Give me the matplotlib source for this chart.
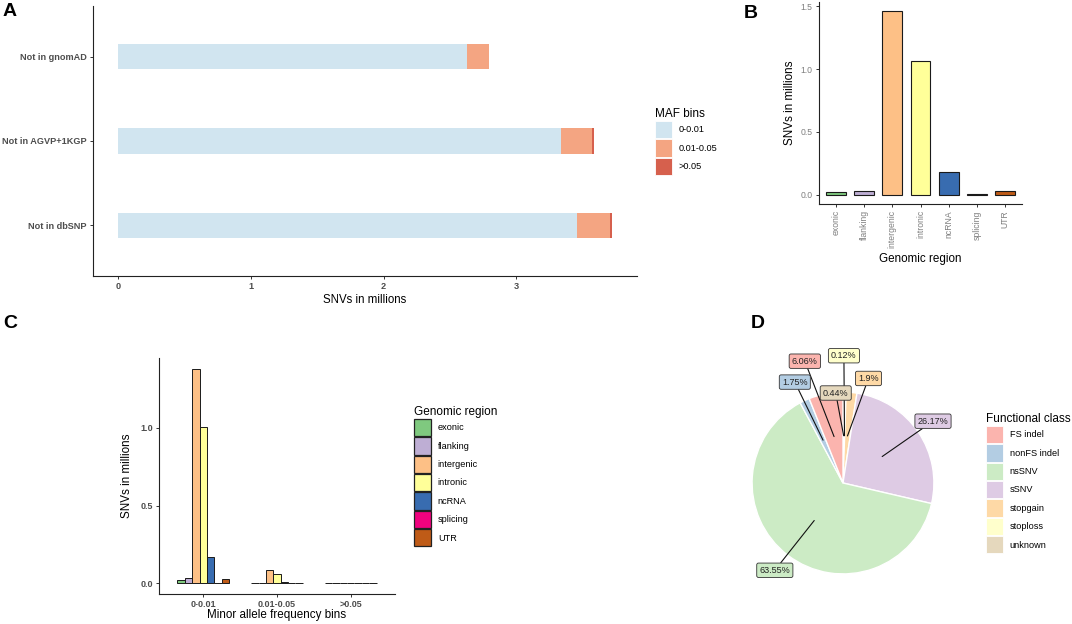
import matplotlib
matplotlib.use('Agg')
import matplotlib.pyplot as plt
from matplotlib.patches import Patch
import numpy as np

plt.rcParams['font.family'] = ['Liberation Sans', 'DejaVu Sans']

# ---- panel A data: novel SNVs per reference set, stacked by MAF bin
sets = ['Not in dbSNP', 'Not in AGVP+1KGP', 'Not in gnomAD']
maf_bins = ['0-0.01', '0.01-0.05', '>0.05']
maf_low = [3.458, 3.336, 2.632]
maf_mid = [0.247, 0.238, 0.163]
maf_high = [0.018, 0.015, 0.003]
maf_colors = ['#D1E5F0', '#F4A582', '#D6604D']

# ---- panel B data: SNVs per genomic region
regions = ['exonic', 'flanking', 'intergenic', 'intronic', 'ncRNA', 'splicing', 'UTR']
region_total = [0.024, 0.032, 1.46, 1.066, 0.18, 0.003, 0.03]
region_colors = ['#7FC97F', '#BEAED4', '#FDC086', '#FFFF99', '#386CB0', '#F0027F', '#BF5B17']

# ---- panel C data: genomic region split by minor allele frequency bin
freq_bins = ['0-0.01', '0.01-0.05', '>0.05']
bin1_vals = [0.023, 0.032, 1.38, 1.005, 0.169, 0.002, 0.03]
bin2_vals = [0.001, 0.002, 0.088, 0.058, 0.009, 0.0005, 0.002]
bin3_vals = [0.0005, 0.001, 0.003, 0.002, 0.001, 0.0002, 0.0005]

# ---- panel D data: functional class (%)
classes = ['FS indel', 'nonFS indel', 'nsSNV', 'sSNV', 'stopgain', 'stoploss', 'unknown']
class_pct = [6.06, 1.75, 63.55, 26.17, 1.9, 0.12, 0.44]
class_colors = ['#FBB4AE', '#B3CDE3', '#CCEBC5', '#DECBE4', '#FED9A6', '#FFFFCC', '#E5D8BD']
# repelled label box positions, in pie-radius units
label_pos = [(-0.42, 1.34), (-0.53, 1.11), (-0.75, -0.96), (0.99, 0.68),
             (0.28, 1.15), (0.01, 1.40), (-0.08, 0.99)]

W, H = 1072, 624
fig = plt.figure(figsize=(W/100, H/100), dpi=100)

def px_axes(l, t, r, b):
    return fig.add_axes([l/W, 1-b/H, (r-l)/W, (b-t)/H])

def classic(ax, tick_col, weight, size):
    for s in ['top', 'right']:
        ax.spines[s].set_visible(False)
    for s in ['left', 'bottom']:
        ax.spines[s].set_linewidth(0.8)
        ax.spines[s].set_color('#222222')
    ax.tick_params(length=2.5, width=0.7, color='#333333', labelcolor=tick_col,
                   labelsize=size, pad=2)
    for lab in ax.get_xticklabels() + ax.get_yticklabels():
        lab.set_fontweight(weight)

def add_legend(title, labels, colors, x, y, edge=None):
    handles = [Patch(facecolor=c, edgecolor=edge if edge else 'white',
                     linewidth=0.9 if edge else 0.6) for c in colors]
    leg = fig.legend(handles, labels, title=title, loc='upper left',
                     bbox_to_anchor=(x/W, 1-y/H), frameon=False, fontsize=6.6,
                     title_fontsize=8.5, handlelength=1.9, handleheight=2.55,
                     labelspacing=0.1, handletextpad=0.7, borderpad=0,
                     borderaxespad=0, alignment='left')
    return leg

# ---------------- A
axA = px_axes(93, 6, 637, 276)
ypos = np.arange(1, len(sets)+1)
left = np.zeros(len(sets))
for vals, col in zip([maf_low, maf_mid, maf_high], maf_colors):
    axA.barh(ypos, vals, left=left, height=0.3, color=col, linewidth=0)
    left += np.array(vals)
axA.set_yticks(ypos)
axA.set_yticklabels(sets)
axA.set_xticks([0, 1, 2, 3])
axA.set_xlim(-0.19, 3.91)
axA.set_ylim(0.4, 3.6)
classic(axA, '#4D4D4D', 'bold', 6.6)
axA.set_xlabel('SNVs in millions', fontsize=8.3, labelpad=2)
add_legend('MAF bins', maf_bins, maf_colors, 655, 108)
fig.text(3/W, 1-12/H, 'A', fontsize=14, fontweight='bold', va='center')

# ---------------- B
axB = px_axes(819, 2, 1022, 204)
xb = np.arange(1, len(regions)+1)
axB.bar(xb, region_total, width=0.7, color=region_colors, edgecolor='#1a1a1a', linewidth=0.8)
axB.set_xticks(xb)
axB.set_xticklabels(regions, rotation=90)
axB.set_yticks([0, 0.5, 1.0, 1.5])
axB.set_xlim(0.4, 7.6)
axB.set_ylim(-0.073, 1.533)
classic(axB, '#7F7F7F', 'normal', 6.2)
axB.set_xlabel('Genomic region', fontsize=8.4, labelpad=3)
axB.set_ylabel('SNVs in millions', fontsize=8.4, labelpad=3)
fig.text(744/W, 1-13/H, 'B', fontsize=14, fontweight='bold', va='center')

# ---------------- C
axC = px_axes(159, 358, 395, 594)
xc = np.arange(1, len(freq_bins)+1)
per_bin = np.array([bin1_vals, bin2_vals, bin3_vals])
for j, col in enumerate(region_colors):
    axC.bar(xc + (j-3)*0.1, per_bin[:, j], width=0.1, color=col,
            edgecolor='#1a1a1a', linewidth=0.7)
axC.set_xticks(xc)
axC.set_xticklabels(freq_bins)
axC.set_yticks([0, 0.5, 1.0])
axC.set_yticklabels(['0.0', '0.5', '1.0'])
axC.set_xlim(0.4, 3.6)
axC.set_ylim(-0.069, 1.449)
classic(axC, '#4D4D4D', 'bold', 6.5)
axC.set_xlabel('Minor allele frequency bins', fontsize=8.4, labelpad=0)
axC.set_ylabel('SNVs in millions', fontsize=8.4, labelpad=5)
add_legend('Genomic region', regions, region_colors, 414, 406, edge='#222222')
fig.text(3/W, 1-323/H, 'C', fontsize=14, fontweight='bold', va='center')

# ---------------- D
axD = px_axes(713, 353, 973, 613)
order = list(range(len(classes)))[::-1]
pie_vals = [class_pct[i] for i in order]
pie_cols = [class_colors[i] for i in order]
axD.pie(pie_vals, colors=pie_cols, startangle=90, counterclock=False, radius=1,
        wedgeprops=dict(edgecolor='white', linewidth=1.0))
axD.set_xlim(-1.43, 1.43)
axD.set_ylim(-1.43, 1.43)
axD.set_aspect('equal')
axD.axis('off')
total = sum(pie_vals)
cum = 0.0
mids = {}
for i, v in zip(order, pie_vals):
    mids[i] = (cum + v/2) / total
    cum += v
for i, name in enumerate(classes):
    th = 2*np.pi*mids[i]
    anchor = (0.52*np.sin(th), 0.52*np.cos(th))
    axD.annotate(f'{class_pct[i]:g}%', xy=anchor, xytext=label_pos[i],
                 ha='center', va='center', fontsize=6.5, color='#222222',
                 bbox=dict(boxstyle='round,pad=0.3,rounding_size=0.2',
                           fc=class_colors[i], ec='#333333', lw=0.6),
                 arrowprops=dict(arrowstyle='-', color='#111111', lw=0.8,
                                 shrinkA=0, shrinkB=0))
add_legend('Functional class', classes, class_colors, 986, 413)
fig.text(751/W, 1-323/H, 'D', fontsize=14, fontweight='bold', va='center')

fig.savefig('out.png', dpi=100)
